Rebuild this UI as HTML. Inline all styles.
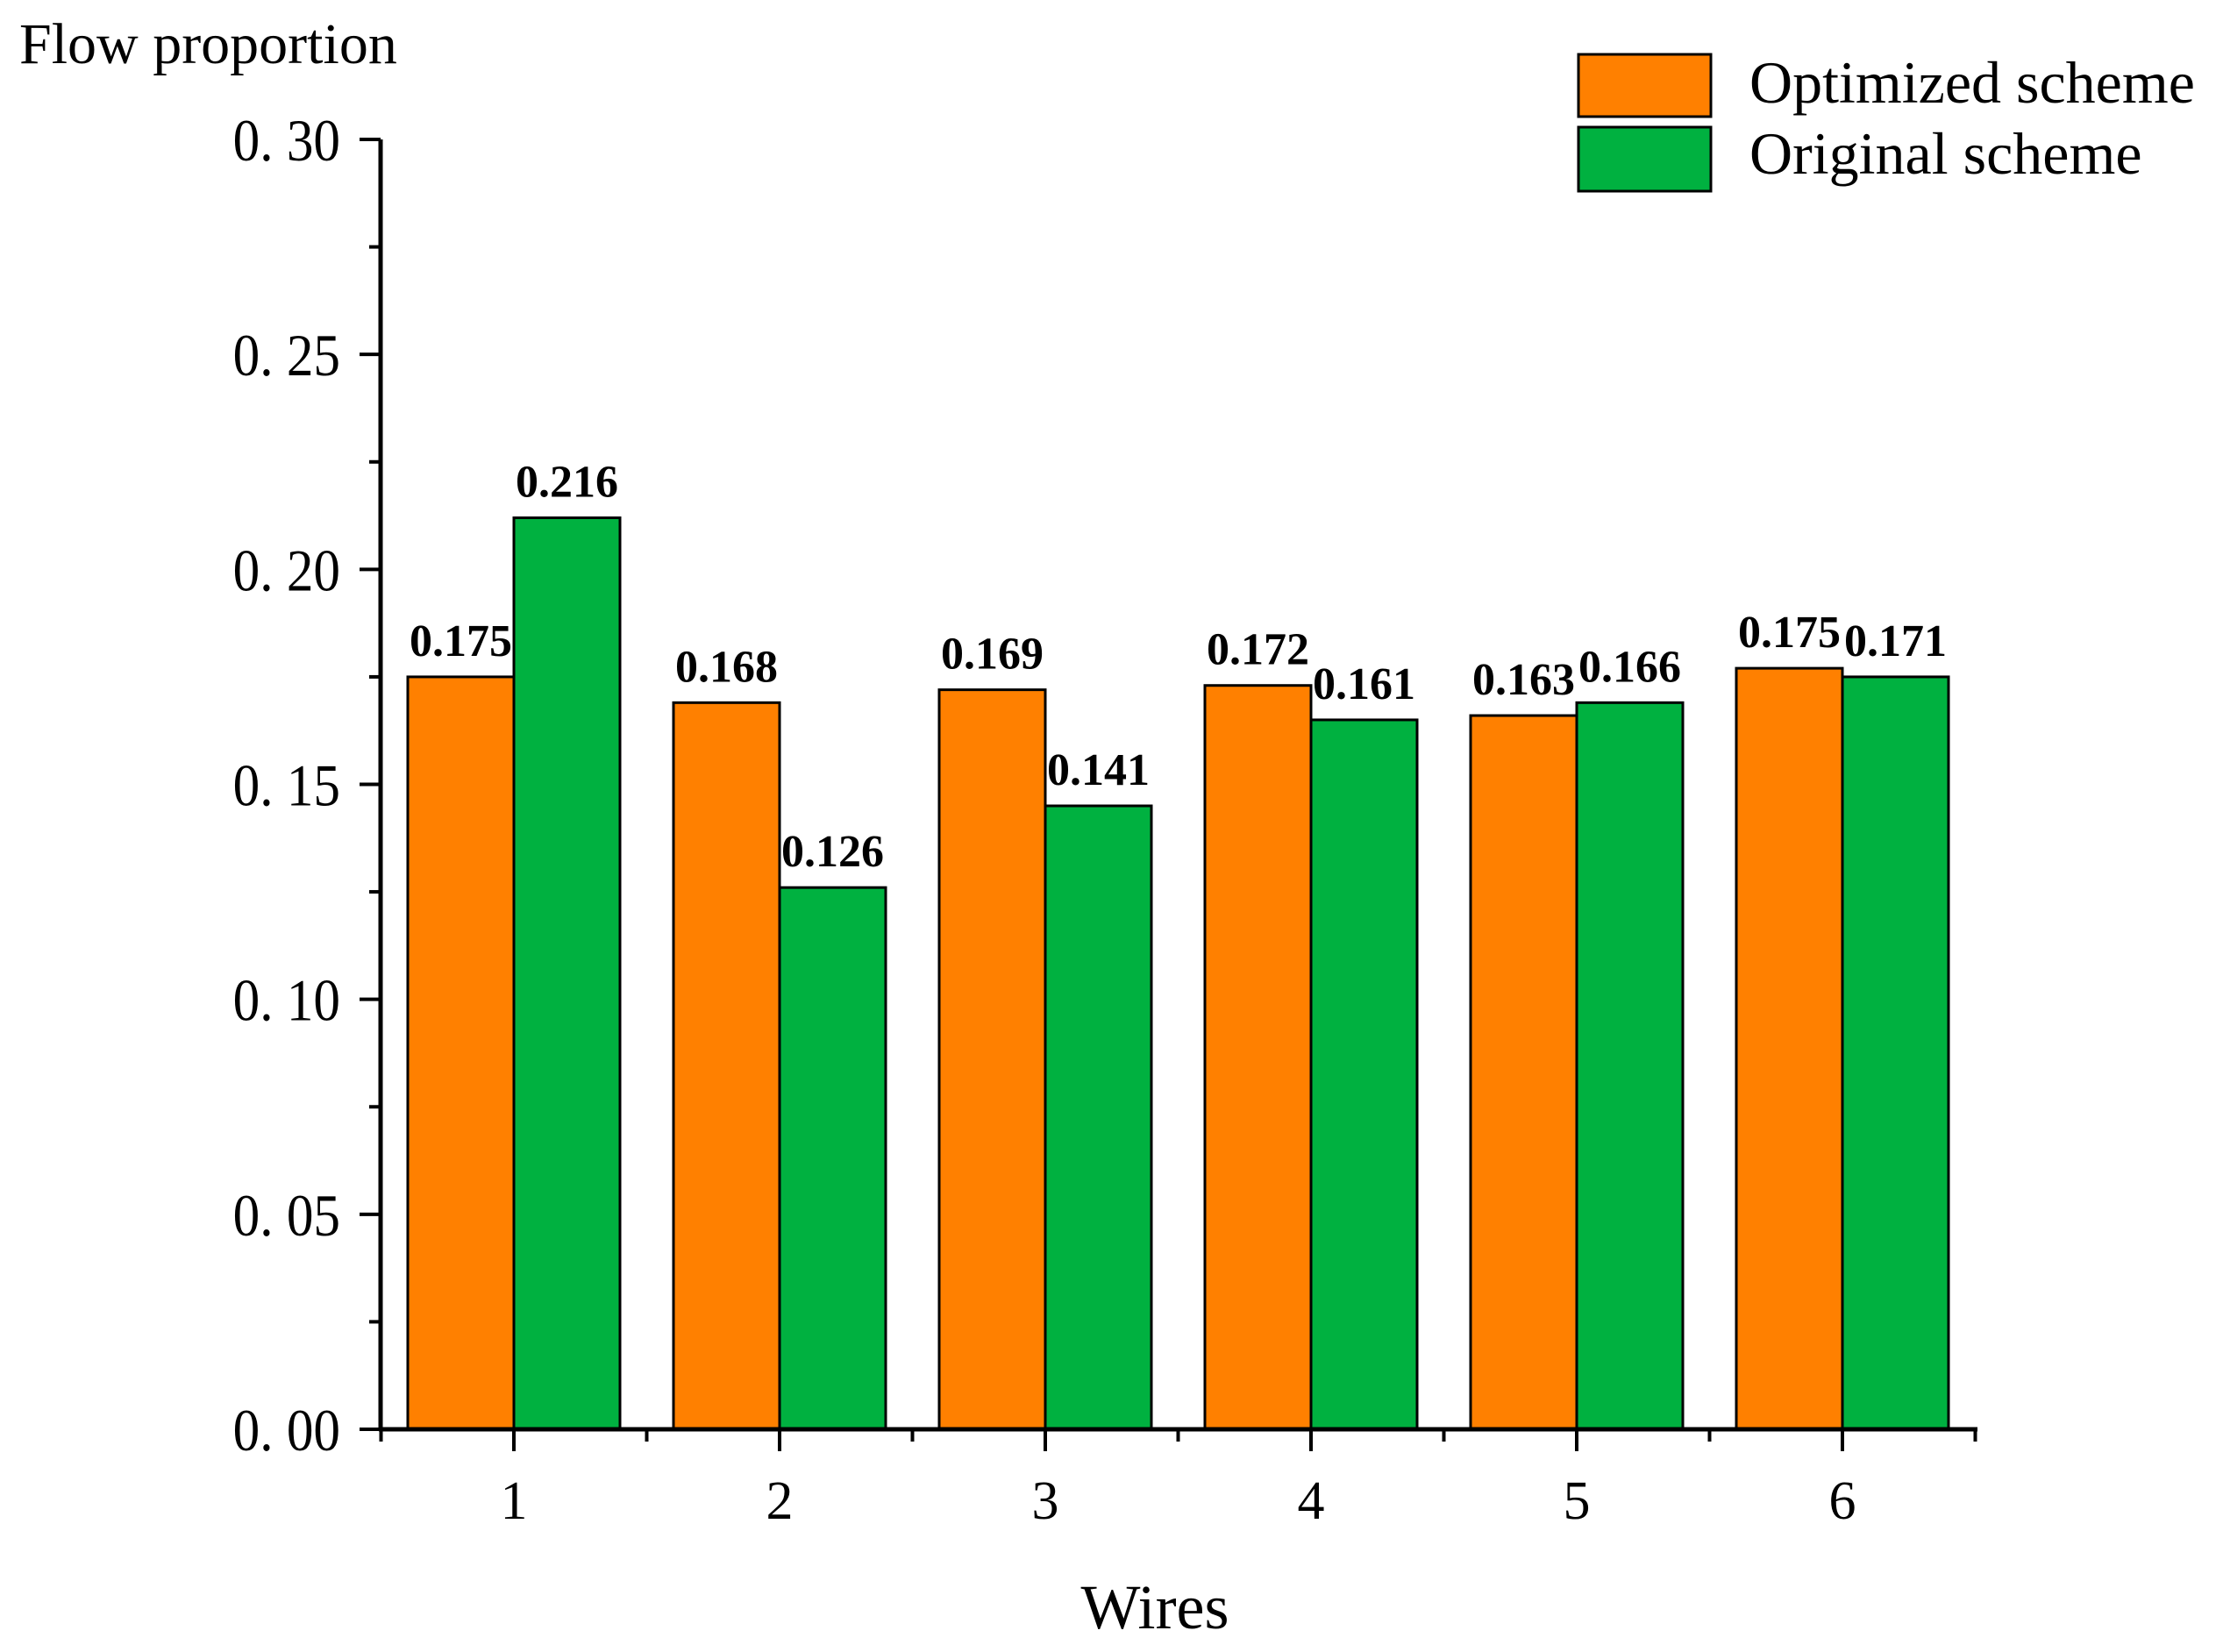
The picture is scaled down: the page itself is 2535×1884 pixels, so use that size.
<!DOCTYPE html>
<html><head><meta charset="utf-8"><style>
html,body{margin:0;padding:0;background:#fff;}
svg{display:block;font-family:"Liberation Serif",serif;}
</style></head><body>
<svg id="chart" width="2535" height="1884" viewBox="0 0 2535 1884">
<text x="22" y="72" font-size="66">Flow proportion</text>
<text x="1317" y="1857" font-size="72" text-anchor="middle">Wires</text>
<g>
<rect x="1800" y="62" width="151" height="71" fill="#FF8000" stroke="#000" stroke-width="3"/>
<text x="1995" y="117" font-size="68">Optimized scheme</text>
<rect x="1800" y="145" width="151" height="73" fill="#00B140" stroke="#000" stroke-width="3"/>
<text x="1995" y="198" font-size="68">Original scheme</text>
</g>
<g id="plot"></g>
</svg>
<script>
const categories = ["1","2","3","4","5","6"];
const optimizedValues = [0.175,0.169,0.172,0.173,0.166,0.177];
const originalValues = [0.212,0.126,0.145,0.165,0.169,0.175];
const optimizedLabels = ["0.175","0.168","0.169","0.172","0.163","0.175"];
const originalLabels = ["0.216","0.126","0.141","0.161","0.166","0.171"];
const yTicks = [0,0.05,0.10,0.15,0.20,0.25,0.30];
const yTickLabels = ["0. 00","0. 05","0. 10","0. 15","0. 20","0. 25","0. 30"];

const NS="http://www.w3.org/2000/svg";
const g=document.getElementById('plot');
const X0=434, X1=2255, Y0=1630, YT=159, YMAX=0.30;
const step=303, first=586, bw=121;
function y(v){return Y0-(v/YMAX)*(Y0-YT);}
function xc(i){return first+i*step;}
function mk(t,a){const e=document.createElementNS(NS,t);for(const k in a)e.setAttribute(k,a[k]);g.appendChild(e);return e;}

categories.forEach((c,i)=>{
  const cx=xc(i);
  let r=mk('rect',{x:cx-bw,y:y(optimizedValues[i]),width:bw,height:Y0-y(optimizedValues[i]),fill:'#FF8000',stroke:'#000','stroke-width':3});
  
  
  r=mk('rect',{x:cx,y:y(originalValues[i]),width:bw,height:Y0-y(originalValues[i]),fill:'#00B140',stroke:'#000','stroke-width':3});
  
  
  let t=mk('text',{x:cx-bw/2,y:y(optimizedValues[i])-24,'font-size':52,'font-weight':'bold','text-anchor':'middle'});
  t.textContent=optimizedLabels[i];
  
  
  t=mk('text',{x:cx+bw/2,y:y(originalValues[i])-24,'font-size':52,'font-weight':'bold','text-anchor':'middle'});
  t.textContent=originalLabels[i];
  
  
  mk('line',{x1:cx,y1:Y0,x2:cx,y2:Y0+25,stroke:'#000','stroke-width':4});
  mk('line',{x1:cx-step/2,y1:Y0,x2:cx-step/2,y2:Y0+14,stroke:'#000','stroke-width':4});
  t=mk('text',{x:cx,y:1732,'font-size':62,'text-anchor':'middle'});
  t.textContent=c;
  
  
});
mk('line',{x1:xc(5)+step/2,y1:Y0,x2:xc(5)+step/2,y2:Y0+14,stroke:'#000','stroke-width':4});
yTicks.forEach((v,i)=>{
  mk('line',{x1:X0-24,y1:y(v),x2:X0,y2:y(v),stroke:'#000','stroke-width':4});
  if(i<yTicks.length-1){const m=(v+yTicks[i+1])/2;mk('line',{x1:X0-13,y1:y(m),x2:X0,y2:y(m),stroke:'#000','stroke-width':4});}
  const t=mk('text',{x:X0-46,y:y(v)+24,'font-size':68,'text-anchor':'end',transform:`translate(${X0-46} 0) scale(0.9 1) translate(${-(X0-46)} 0)`});
  t.textContent=yTickLabels[i];
  
  
});
let ax=mk('line',{x1:X0,y1:YT,x2:X0,y2:Y0+2,stroke:'#000','stroke-width':5});


ax=mk('line',{x1:X0-2,y1:Y0,x2:X1,y2:Y0,stroke:'#000','stroke-width':5});


</script>
</body></html>
